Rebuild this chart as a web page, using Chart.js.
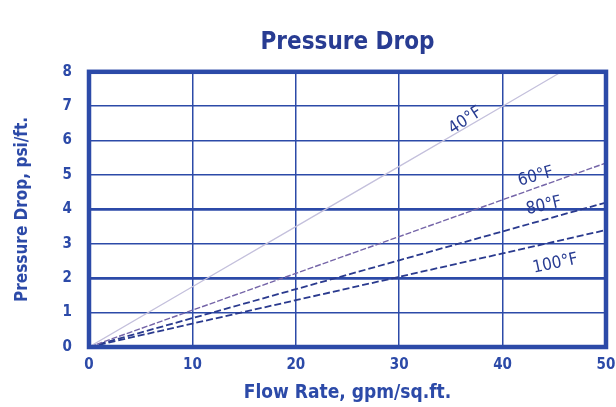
<!DOCTYPE html>
<html>
<head>
<meta charset="utf-8">
<script src="https://cdn.jsdelivr.net/npm/chart.js@4/dist/chart.umd.min.js"></script>
<style>
html,body{margin:0;padding:0;background:#fff;}
#wrap{width:616px;height:407px;}
</style>
</head>
<body>
<div id="wrap"><canvas id="c" width="616" height="407"></canvas></div>
<script>
// flow rate, gpm/sq.ft.
const flow=[0,10,20,30,40,50];
const flow40=[0,10,20,30,40,45.7];
// pressure drop, psi/ft.
const drop40=[0,1.75,3.5,5.25,7.0,8.0];
const drop60=[0,1.07,2.14,3.21,4.28,5.35];
const drop80=[0,0.84,1.68,2.52,3.36,4.2];
const drop100=[0,0.68,1.36,2.04,2.72,3.4];

const seriesNames=["40°F","60°F","80°F","100°F"];
// label anchor in data units and angle
const labelX=[36.4,43.2,44.0,45.1];
const labelY=[6.58,4.95,4.1,2.42];
const labelAngle=[-33,-15,-13,-12];

const blue="#2c4aa8";
const dark="#283c92";
const font="'Liberation Sans Narrow','DejaVu Sans Condensed',sans-serif";

function pts(xs,ys){
    return xs.map((x,i)=>({x:x,y:ys[i]}));
}

const frame={
    id:"frame",
    afterDatasetsDraw(chart){
        const a=chart.chartArea, g=chart.ctx;
        g.save();
        g.strokeStyle=blue;
        g.lineWidth=4.5;
        g.strokeRect(a.left,a.top,a.right-a.left,a.bottom-a.top);
        g.restore();
    },
    afterDraw(chart){
        const g=chart.ctx, sx=chart.scales.x, sy=chart.scales.y;
        g.save();
        g.fillStyle=dark;
        g.font="17px "+font;
        g.textAlign="center";
        g.textBaseline="middle";
        seriesNames.forEach((n,i)=>{
            g.save();
            g.translate(sx.getPixelForValue(labelX[i]),sy.getPixelForValue(labelY[i]));
            g.rotate(labelAngle[i]*Math.PI/180);
            g.fillText(n,0,0);
            g.restore();
        });
        g.restore();
    }
};

new Chart(document.getElementById("c"),{
    type:"line",
    data:{
        datasets:[
            {label:"40°F",data:pts(flow40,drop40),borderColor:"#c4c0dc",borderWidth:1.3,pointRadius:0},
            {label:"60°F",data:pts(flow,drop60),borderColor:"#7565a8",borderWidth:1.4,borderDash:[6,2],pointRadius:0},
            {label:"80°F",data:pts(flow,drop80),borderColor:"#2a3a8e",borderWidth:1.8,borderDash:[7,3],pointRadius:0},
            {label:"100°F",data:pts(flow,drop100),borderColor:"#2a3a8e",borderWidth:1.8,borderDash:[7,3],pointRadius:0}
        ]
    },
    options:{
        responsive:false,
        animation:false,
        layout:{padding:{left:0,right:0,top:0,bottom:0}},
        plugins:{
            legend:{display:false},
            tooltip:{enabled:false},
            title:{
                display:true,
                fullSize:false,
                text:"Pressure Drop",
                color:dark,
                font:{family:font,size:24,weight:"bold"},
                padding:{top:28,bottom:15}
            }
        },
        scales:{
            x:{
                type:"linear",
                min:0,max:50,
                afterFit(s){s.height=60;s.paddingRight=10;},
                ticks:{stepSize:10,color:blue,padding:9,font:{family:font,size:15,weight:"bold"}},
                grid:{color:blue,lineWidth:1.5,drawTicks:false},
                border:{display:false},
                title:{display:true,text:"Flow Rate, gpm/sq.ft.",color:blue,
                    font:{family:font,size:19,weight:"bold"},padding:{top:0,bottom:3}}
            },
            y:{
                min:0,max:8,
                afterFit(s){s.width=89;},
                ticks:{stepSize:1,color:blue,padding:17,font:{family:font,size:15,weight:"bold"}},
                grid:{color:blue,drawTicks:false,
                    lineWidth:c=>(c.tick.value==2||c.tick.value==4)?2.8:1.5},
                border:{display:false},
                title:{display:true,text:"Pressure Drop, psi/ft.",color:blue,
                    font:{family:font,size:17,weight:"bold"},padding:{top:12,bottom:0}}
            }
        }
    },
    plugins:[frame]
});
</script>
</body>
</html>
